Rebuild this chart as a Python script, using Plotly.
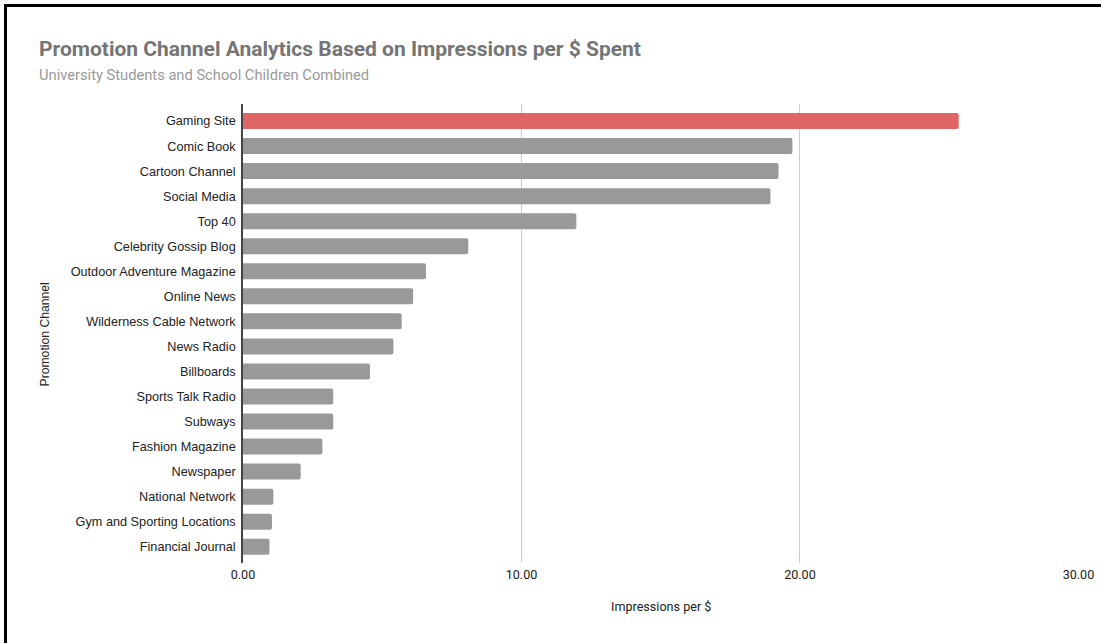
import plotly.graph_objects as go

# Promotion channels, ordered top to bottom
channels = [
    "Gaming Site", "Comic Book", "Cartoon Channel", "Social Media", "Top 40",
    "Celebrity Gossip Blog", "Outdoor Adventure Magazine", "Online News",
    "Wilderness Cable Network", "News Radio", "Billboards", "Sports Talk Radio",
    "Subways", "Fashion Magazine", "Newspaper", "National Network",
    "Gym and Sporting Locations", "Financial Journal",
]
impressions_per_dollar = [
    25.70, 19.73, 19.23, 18.94, 11.97, 8.09, 6.57, 6.11, 5.70, 5.40,
    4.56, 3.24, 3.24, 2.85, 2.07, 1.09, 1.04, 0.95,
]
x_ticks = [0, 10, 20, 30]
x_tick_labels = ["0.00", "10.00", "20.00", "30.00"]

W, H = 1101, 643
ML, MR, MT, MB = 243, 22, 104, 80
PW, PH = W - ML - MR, H - MT - MB

def px_x(p):
    return (p - ML) / PW

def px_y(p):
    return (H - MB - p) / PH

top_value = max(impressions_per_dollar)
bar_colors = ["#e06666" if v == top_value else "#999999" for v in impressions_per_dollar]

fig = go.Figure(
    go.Bar(
        x=impressions_per_dollar,
        y=channels,
        orientation="h",
        marker=dict(color=bar_colors, line=dict(width=0), cornerradius=2),
        hoverinfo="x+y",
    )
)

n = len(channels)
fig.update_layout(
    width=W,
    height=H,
    margin=dict(l=ML, r=MR, t=MT, b=MB, pad=0),
    paper_bgcolor="white",
    plot_bgcolor="white",
    showlegend=False,
    bargap=0.36,
    xaxis=dict(
        automargin=False,
        range=[0, 30.02],
        tickvals=x_ticks,
        ticktext=x_tick_labels,
        showgrid=True,
        gridcolor="#cccccc",
        gridwidth=1,
        zeroline=False,
        showline=False,
        ticks="",
        ticklabelstandoff=2,
        tickfont=dict(family="Roboto", size=12.6, color="#222222"),
    ),
    yaxis=dict(
        automargin=False,
        type="category",
        categoryorder="array",
        categoryarray=channels,
        range=[n - 1 + 0.65, -0.68],
        showgrid=False,
        zeroline=False,
        showline=True,
        linecolor="#444444",
        linewidth=1.5,
        ticks="",
        ticklabelstandoff=3,
        tickfont=dict(family="Liberation Sans, Arial", size=12.7, color="#222222"),
    ),
    shapes=[
        dict(
            type="rect", xref="paper", yref="paper",
            x0=px_x(5.5), x1=px_x(1200), y0=px_y(5.5), y1=px_y(800),
            line=dict(color="black", width=3), fillcolor="rgba(0,0,0,0)",
            layer="above",
        )
    ],
    annotations=[
        dict(
            text="<b>Promotion Channel Analytics Based on Impressions per $ Spent</b>",
            x=px_x(37), y=px_y(49.5), xref="paper", yref="paper",
            xanchor="left", yanchor="middle", showarrow=False,
            font=dict(family="Roboto", size=21, color="#757575"),
        ),
        dict(
            text="University Students and School Children Combined",
            x=px_x(37), y=px_y(74.5), xref="paper", yref="paper",
            xanchor="left", yanchor="middle", showarrow=False,
            font=dict(family="Roboto", size=14.7, color="#999999"),
        ),
        dict(
            text="Impressions per $",
            x=px_x(661), y=px_y(606), xref="paper", yref="paper",
            xanchor="center", yanchor="middle", showarrow=False,
            font=dict(family="Roboto", size=12.6, color="#222222"),
        ),
        dict(
            text="Promotion Channel",
            x=px_x(44.5), y=px_y(335), xref="paper", yref="paper",
            xanchor="center", yanchor="middle", showarrow=False, textangle=-90,
            font=dict(family="Liberation Sans, Arial", size=12.2, color="#222222"),
        ),
    ],
)

fig.write_html("out.html")
